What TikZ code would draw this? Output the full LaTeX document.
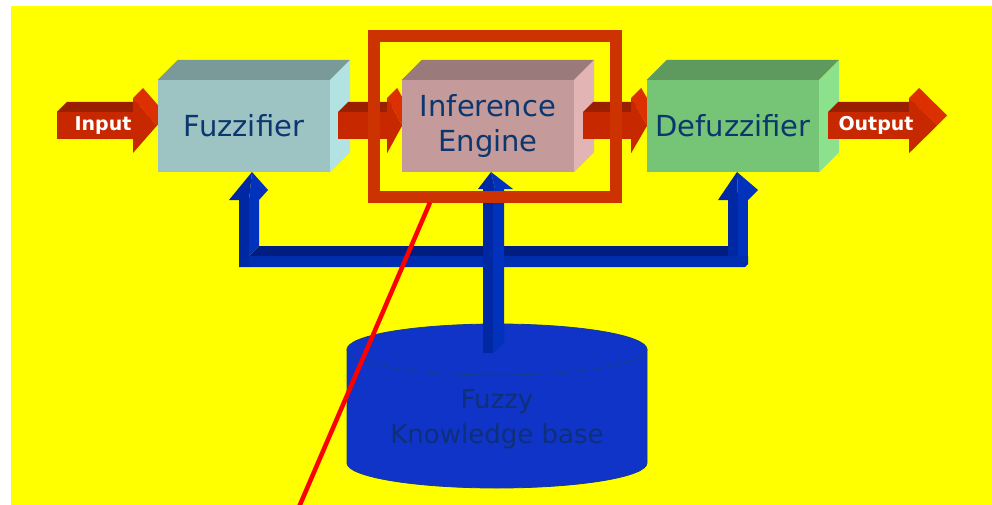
\documentclass[tikz,border=0pt]{standalone}
\usepackage{fontspec}
\setmainfont{DejaVu Sans}
\usetikzlibrary{calc}

% palette
\definecolor{bgyellow}{RGB}{255,255,0}
\definecolor{txtnavy}{RGB}{12,55,110}
\definecolor{kbnavy}{RGB}{14,48,120}
\definecolor{fuzzfront}{RGB}{157,195,195}
\definecolor{fuzztop}{RGB}{122,154,154}
\definecolor{fuzzside}{RGB}{178,226,226}
\definecolor{inffront}{RGB}{196,154,154}
\definecolor{inftop}{RGB}{154,122,122}
\definecolor{infside}{RGB}{226,180,180}
\definecolor{defront}{RGB}{118,196,118}
\definecolor{detop}{RGB}{94,154,94}
\definecolor{deside}{RGB}{140,226,140}
\definecolor{arrfront}{RGB}{200,40,0}
\definecolor{arrtop}{RGB}{154,30,0}
\definecolor{arrhead}{RGB}{220,48,0}
\definecolor{framecol}{RGB}{204,51,0}
\definecolor{pipeA}{RGB}{0,40,162}
\definecolor{pipeB}{RGB}{0,50,188}
\definecolor{bartop}{RGB}{0,30,128}
\definecolor{barfront}{RGB}{0,46,176}
\definecolor{kbfill}{RGB}{16,52,200}
\definecolor{kbline}{RGB}{20,60,140}

\tikzset{
  cubebox/.style={minimum width=172pt, minimum height=92pt, inner sep=0pt,
    text=txtnavy, align=center, font=\fontsize{29}{35}\selectfont},
  arrlabel/.style={text=white, font=\bfseries\fontsize{19}{22}\selectfont, inner sep=0pt},
  kblabel/.style={text=kbnavy, align=center, font=\fontsize{26}{35}\selectfont},
  % fat red 3D arrow: #1 = body length, #2 = head length
  pics/redarr/.style n args={2}{code={
    \fill[arrtop] (0,-13.5) -- ++(10,-10) -- (#1+10,-23.5) -- (#1,-13.5) -- cycle;
    \fill[arrhead] (#1,-27.5) -- ++(10,-10) -- (#1+#2+10,-10) -- (#1+#2,0) -- cycle;
    \fill[arrfront] (0,-13.5) -- (#1,-13.5) -- (#1,-27.5) -- (#1+#2,0)
      -- (#1,27.5) -- (#1,13.5) -- (0,13.5) -- cycle;
  }}
}

% top and right faces of a block whose front face is node #1
\newcommand\blockfaces[3]{%
  \fill[#2] (#1.north west) -- ++(20,-20) -- ($(#1.north east)+(20,-20)$) -- (#1.north east) -- cycle;
  \fill[#3] (#1.north east) -- ++(20,-20) -- ($(#1.south east)+(20,-20)$) -- (#1.south east) -- cycle;
}

\begin{document}
\begin{tikzpicture}[x=1pt,y=-1pt]
\useasboundingbox (0,0) rectangle (992,505);
\fill[white] (0,0) rectangle (992,505);
\fill[bgyellow] (11,6) rectangle (992,505);

% ---- blue pipework feeding the three blocks ----
\fill[barfront] (239,256) -- (748,256) -- (748,264) -- (745,267) -- (239,267) -- cycle;
\fill[bartop] (249,256) -- (259,246) -- (728,246) -- (738,256) -- cycle;
% left riser and head
\fill[pipeA] (239,200) rectangle (249,267);
\fill[pipeB] (249,200) -- (259,200) -- (259,246) -- (249,256) -- cycle;
\fill[pipeA] (252,172) -- (229,200) -- (249,200) -- cycle;
\fill[pipeB] (252,172) -- (249,200) -- (259,200) -- (268,190) -- cycle;
% right riser and head
\fill[pipeA] (728,200) rectangle (738,256);
\fill[pipeB] (738,200) rectangle (748,256);
\fill[pipeA] (737,172) -- (718,200) -- (738,200) -- cycle;
\fill[pipeB] (737,172) -- (738,200) -- (748,200) -- (758,190) -- cycle;

% ---- knowledge base cylinder ----
\filldraw[fill=kbfill, draw=kbline, line width=0.8pt]
  (347,349.5) -- (347,463) arc[start angle=180, end angle=0, x radius=150, y radius=25]
  -- (647,349.5) -- cycle;
\filldraw[fill=kbfill, draw=kbline, line width=0.8pt]
  (497,349.5) ellipse[x radius=150, y radius=25.5];
\node[kblabel] (kb) at (497,419.5) {Fuzzy\\Knowledge base};

% central riser from the knowledge base
\fill[pipeA] (483,189) rectangle (493,353);
\fill[pipeB] (493,189) -- (504,189) -- (504,343) -- (493,353) -- cycle;
\fill[pipeA] (491,172) -- (478,189) -- (495,189) -- cycle;
\fill[pipeB] (491,172) -- (495,189) -- (513,189) -- cycle;

% ---- signal chain ----
\pic at (57,125.5) {redarr={76}{24}};
\node[arrlabel] (inlab) at (103,125.5) {Input};

\node[cubebox, fill=fuzzfront] (fuzz) at (244,126) {Fuzzifier};
\blockfaces{fuzz}{fuzztop}{fuzzside}

\pic at ($(fuzz.east)+(8,-0.5)$) {redarr={49}{15}};

\node[cubebox, fill=inffront] (inf) at (488,126) {Inference\\Engine};
\blockfaces{inf}{inftop}{infside}

\pic at ($(inf.east)+(9,-0.5)$) {redarr={48}{16}};

\node[cubebox, fill=defront] (defuzz) at (733,126) {Defuzzifier};
\blockfaces{defuzz}{detop}{deside}

\pic at ($(defuzz.east)+(9,-0.5)$) {redarr={81}{28}};
\node[arrlabel] (outlab) at (876,125.5) {Output};

% ---- highlight of the inference engine ----
\node[draw=framecol, line width=12pt, minimum width=242pt, minimum height=160.5pt,
      inner sep=0pt] (focus) at (495,116.25) {};
\coordinate (lineend) at (299,507);
\draw[red, line width=4.5pt] ($(focus.south west)!0.244!(focus.south east)$) -- (lineend);
\end{tikzpicture}
\end{document}
